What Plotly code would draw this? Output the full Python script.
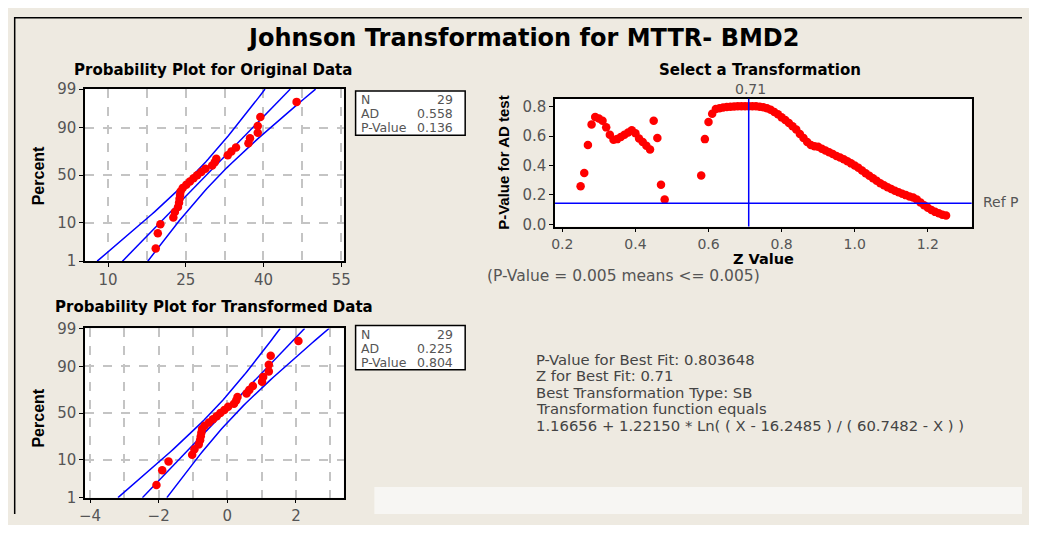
import numpy as np
import plotly.graph_objects as go
from statistics import NormalDist

# the page keeps its 8px body margin, so the figure is 16px smaller than the window
W, H = 1021, 517
OFF = 8

# sorted MTTR values
mttr = [19.2, 19.6, 20.1, 22.6, 22.9, 23.5, 23.7, 23.8, 23.9, 24.0, 24.4, 25.1, 25.8, 26.5, 27.2,
        28.0, 28.8, 30.1, 30.6, 30.9, 33.1, 33.8, 34.7, 37.1, 37.4, 38.9, 38.9, 39.4, 46.4]

# Johnson SB transformation (from the text block)
sb_gamma = 1.16656
sb_eta = 1.22150
sb_low = 16.2485
sb_high = 60.7482

# P-value for AD test against Z value (two runs, gap where no fit)
z_left = [0.25, 0.26, 0.27, 0.28, 0.29, 0.30, 0.31, 0.32, 0.33, 0.34, 0.35, 0.36,
          0.37, 0.38, 0.39, 0.40, 0.41, 0.42, 0.43, 0.44, 0.45, 0.46, 0.47, 0.48]
p_left = [0.26, 0.35, 0.54, 0.68, 0.73, 0.72, 0.705, 0.66, 0.61, 0.575, 0.58, 0.595,
          0.61, 0.625, 0.64, 0.62, 0.585, 0.56, 0.535, 0.51, 0.705, 0.588, 0.27, 0.17]
z_right = [0.58, 0.59, 0.60, 0.61, 0.62, 0.63, 0.64, 0.65, 0.66, 0.67, 0.68, 0.69,
           0.70, 0.71, 0.72, 0.73, 0.74, 0.75, 0.76, 0.77, 0.78, 0.79, 0.80, 0.81,
           0.82, 0.83, 0.84, 0.85, 0.86, 0.87, 0.88, 0.89, 0.90, 0.91, 0.92, 0.93,
           0.94, 0.95, 0.96, 0.97, 0.98, 0.99, 1.00, 1.01, 1.02, 1.03, 1.04, 1.05,
           1.06, 1.07, 1.08, 1.09, 1.10, 1.11, 1.12, 1.13, 1.14, 1.15, 1.16, 1.17,
           1.18, 1.19, 1.20, 1.21, 1.22, 1.23, 1.24, 1.25]
p_right = [0.332, 0.58, 0.697, 0.752, 0.785, 0.79, 0.796, 0.799, 0.801, 0.802, 0.803, 0.8034,
           0.8036, 0.803648, 0.8035, 0.803, 0.801, 0.797, 0.79, 0.78, 0.765, 0.75, 0.728, 0.71,
           0.69, 0.668, 0.645, 0.615, 0.587, 0.56, 0.54, 0.532, 0.528, 0.515, 0.502, 0.49,
           0.478, 0.466, 0.455, 0.443, 0.43, 0.415, 0.40, 0.385, 0.366, 0.348, 0.33, 0.313,
           0.296, 0.28, 0.266, 0.253, 0.24, 0.228, 0.218, 0.208, 0.199, 0.19, 0.183, 0.17,
           0.148, 0.13, 0.113, 0.098, 0.085, 0.075, 0.066, 0.06]

best_z = 0.71
ref_p = 0.144

stat_labels = ["N", "AD", "P-Value"]
stats_orig = ["29", "0.558", "0.136"]
stats_trans = ["29", "0.225", "0.804"]

fit_lines = ["P-Value for Best Fit: 0.803648",
             "Z for Best Fit: 0.71",
             "Best Transformation Type: SB",
             "Transformation function equals",
             "1.16656 + 1.22150 * Ln( ( X - 16.2485 ) / ( 60.7482 - X ) )"]

pct_ticks = [1, 10, 50, 90, 99]

RED = "#FF0000"
BLUE = "#0000FF"
GREY = "#555555"
BG = "#EEEAE1"

nd = NormalDist()


# window pixel -> paper fraction
def px(x):
    return (x - OFF) / W


def py(y):
    return 1 - (y - OFF) / H


# transformed data and plotting positions (median ranks)
x_orig = np.array(mttr)
x_trans = sb_gamma + sb_eta * np.log((x_orig - sb_low) / (sb_high - x_orig))
n = len(mttr)
q = np.array([nd.inv_cdf((i + 1 - 0.3) / (n + 0.4)) for i in range(n)])
zmax = nd.inv_cdf(0.99)
zz = np.linspace(-zmax, zmax, 60)


def prob_traces(x, xa, ya):
    mu, sd = x.mean(), x.std(ddof=1)
    fit = mu + sd * zz
    half = 1.96 * sd * np.sqrt(1 / n + zz ** 2 / (2 * n))
    out = []
    for line_x in (fit - half, fit, fit + half):
        out.append(go.Scatter(x=line_x, y=zz, mode="lines", line=dict(color=BLUE, width=1.5),
                              xaxis=xa, yaxis=ya, hoverinfo="skip"))
    out.append(go.Scatter(x=x, y=q, mode="markers", marker=dict(color=RED, size=8.5),
                          xaxis=xa, yaxis=ya))
    return out


fig = go.Figure()
for t in prob_traces(x_orig, "x", "y"):
    fig.add_trace(t)
for t in prob_traces(x_trans, "x2", "y2"):
    fig.add_trace(t)
fig.add_trace(go.Scatter(x=z_left, y=p_left, mode="markers", marker=dict(color=RED, size=8.5),
                         xaxis="x3", yaxis="y3"))
fig.add_trace(go.Scatter(x=z_right, y=p_right, mode="markers", marker=dict(color=RED, size=8.5),
                         xaxis="x3", yaxis="y3"))

tick_font = dict(family="DejaVu Sans", size=15, color=GREY)
frame = dict(showline=True, linecolor="black", linewidth=1.5, mirror=True, zeroline=False,
             ticks="outside", ticklen=4, tickcolor="black", tickfont=tick_font)
grid = dict(showgrid=True, gridcolor="#C4C4C4", gridwidth=1.5, griddash="dash")
minor_grid = dict(showgrid=True, gridcolor="#C4C4C4", gridwidth=1.5, griddash="dash", ticks="")

pct_vals = [nd.inv_cdf(p / 100) for p in pct_ticks]
yprob = dict(frame, **grid, range=[-zmax, zmax], tickvals=pct_vals,
             ticktext=[str(p) for p in pct_ticks])

fig.update_layout(
    width=W, height=H, margin=dict(l=0, r=0, t=0, b=0),
    paper_bgcolor=BG, plot_bgcolor="white", showlegend=False,
    xaxis=dict(frame, **grid, domain=[px(80), px(342)], range=[5.56, 55.5],
               tickvals=[10, 25, 40, 55], anchor="y",
               minor=dict(minor_grid, tickvals=[17.5, 32.5, 47.5])),
    yaxis=dict(yprob, domain=[py(262), py(83)], anchor="x"),
    xaxis2=dict(frame, **grid, domain=[px(80), px(342)], range=[-4.144, 3.394],
                tickvals=[-4, -2, 0, 2], anchor="y2",
                minor=dict(minor_grid, tickvals=[-3, -1, 1, 3])),
    yaxis2=dict(yprob, domain=[py(508), py(332)], anchor="x2"),
    xaxis3=dict(frame, showgrid=False, domain=[px(556), px(978)], range=[0.18, 1.32],
                tickvals=[0.2, 0.4, 0.6, 0.8, 1.0, 1.2], tickformat=".1f", anchor="y3",
                tickfont=dict(tick_font, size=14)),
    yaxis3=dict(frame, showgrid=False, domain=[py(226), py(93)], range=[-0.015, 0.855],
                tickvals=[0, 0.2, 0.4, 0.6, 0.8], tickformat=".1f", anchor="x3"),
)

shapes = [
    # window frame (top and left edges)
    dict(type="line", xref="paper", yref="paper", x0=0, x1=1, y0=py(8.7), y1=py(8.7),
         line=dict(color="black", width=1.5)),
    dict(type="line", xref="paper", yref="paper", x0=px(8.7), x1=px(8.7), y0=0, y1=1,
         line=dict(color="black", width=1.5)),
    dict(type="rect", xref="paper", yref="paper", x0=px(373), x1=1, y0=0, y1=py(497),
         fillcolor="#F7F6F3", line_width=0, layer="below"),
    # reference lines on the transformation plot
    dict(type="line", xref="x3", yref="paper", x0=best_z, x1=best_z, y0=py(226), y1=py(93),
         line=dict(color=BLUE, width=1.5)),
    dict(type="line", xref="paper", yref="y3", x0=px(556), x1=px(978), y0=ref_p, y1=ref_p,
         line=dict(color=BLUE, width=1.5)),
]
for top in (85, 329):
    shapes.append(dict(type="rect", xref="paper", yref="paper", x0=px(354), x1=px(465),
                       y0=py(top + 46), y1=py(top), fillcolor="white",
                       line=dict(color="black", width=1.5)))
fig.update_layout(shapes=shapes)

ann = []


def text(x, y, s, size=13, color=GREY, xanchor="center", angle=0, family="DejaVu Sans"):
    ann.append(dict(x=px(x), y=py(y), xref="paper", yref="paper", text=s, showarrow=False,
                    xanchor=xanchor, yanchor="middle", textangle=angle,
                    font=dict(family=family, size=size, color=color)))


text(524, 30, "<b>Johnson Transformation for MTTR- BMD2</b>", size=24, color="black")
text(210, 63, "<b>Probability Plot for Original Data</b>", size=15, color="black")
text(211, 310, "<b>Probability Plot for Transformed Data</b>", size=15, color="black")
text(764, 63, "<b>Select a Transformation</b>", size=15, color="black")
narrow = "Liberation Sans Narrow, Arial Narrow, Liberation Sans"
text(33, 173, "<b>Percent</b>", size=16, color="black", angle=-90, family=narrow)
text(33, 425, "<b>Percent</b>", size=16, color="black", angle=-90, family=narrow)
text(503, 160, "<b>P-Value for AD test</b>", size=15, color="black", angle=-90, family=narrow)
text(767, 260, "<b>Z Value</b>", size=14.5, color="black")
text(754, 83, "0.71", size=14)
text(987, 200, "Ref P", size=14, xanchor="left")
text(485, 277, "(P-Value = 0.005 means <= 0.005)", size=15.5, xanchor="left")

for top, vals in ((85, stats_orig), (329, stats_trans)):
    for k, (lab, v) in enumerate(zip(stat_labels, vals)):
        yy = top + 9 + k * 14.5
        text(357, yy, lab, size=12.5, xanchor="left")
        text(455, yy, v, size=12.5, xanchor="right")

for k, line in enumerate(fit_lines):
    text(535, 364 + k * 17.2, line, size=14.8, color="#444444", xanchor="left")

fig.update_layout(annotations=ann)

fig.write_html("out.html", config={"displayModeBar": False})
